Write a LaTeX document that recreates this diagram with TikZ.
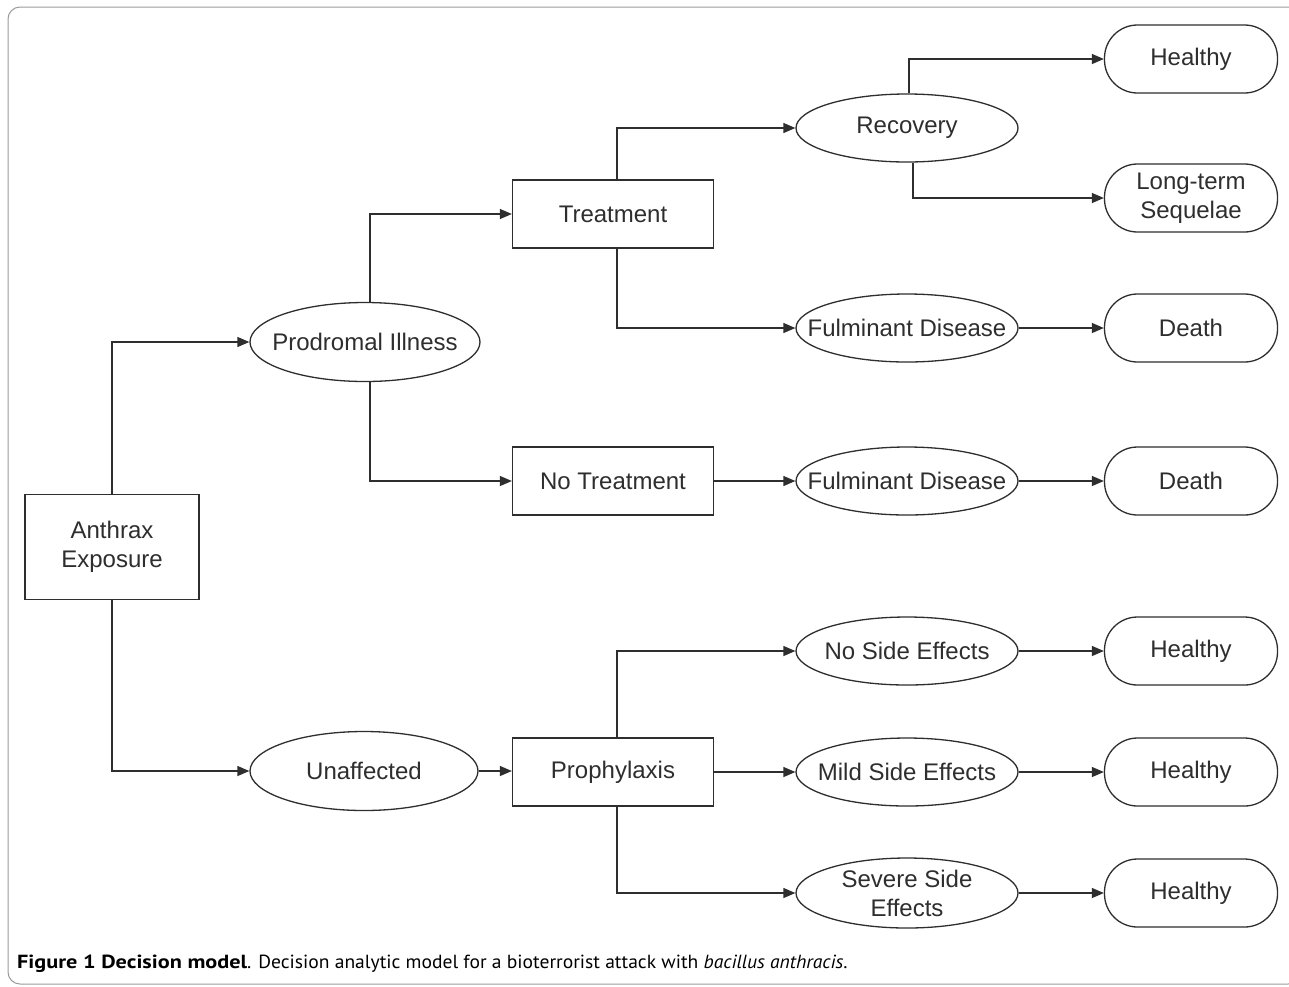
\documentclass[tikz,border=0pt]{standalone}
\usepackage{fontspec}
\setmainfont{Liberation Sans}
\newfontfamily\capfont{PT Sans}
\usetikzlibrary{shapes.geometric,arrows.meta}
\definecolor{ink}{HTML}{2E2E2E}
\definecolor{framec}{HTML}{9A9A9A}
\tikzset{
  every node/.style={font=\fontsize{24}{29}\selectfont, text=ink, align=center, inner sep=0pt},
  boxnode/.style={draw=ink, line width=1.3pt, fill=white, rectangle},
  ovalnode/.style={draw=ink, line width=1.3pt, fill=white, ellipse},
  endnode/.style={draw=ink, line width=1.3pt, fill=white, rectangle, rounded corners=33pt, minimum width=173pt, minimum height=68pt},
  link/.style={draw=ink, line width=1.3pt, -{Triangle[length=12pt,width=10pt]}},
}
\begin{document}
\begin{tikzpicture}[x=1pt,y=-1pt]
\useasboundingbox (0,0) rectangle (1289,986);
\begin{scope}
\clip (0,0) rectangle (1289,986);
\draw[framec, line width=1pt, rounded corners=12pt] (8,7) rectangle (1300,984);
\end{scope}
% rectangles
\node[boxnode, minimum width=174pt, minimum height=105pt] (ae) at (112,547) {Anthrax\\Exposure};
\node[boxnode, minimum width=201pt, minimum height=68pt] (tr) at (613,214) {Treatment};
\node[boxnode, minimum width=201pt, minimum height=68pt] (nt) at (613,481) {No Treatment};
\node[boxnode, minimum width=201pt, minimum height=68pt] (pr) at (613,772) {Prophylaxis};
% ellipses (shape, then its text)
\node[ovalnode, minimum width=230pt, minimum height=79pt] (pi) at (365,342) {};
\node (pit) at (pi.center) {Prodromal Illness};
\node[ovalnode, minimum width=228pt, minimum height=79pt] (un) at (364,771) {};
\node (unt) at (un.center) {Unaffected};
\node[ovalnode, minimum width=222pt, minimum height=68pt] (rc) at (907,128) {};
\node (rct) at (rc.center) {Recovery};
\node[ovalnode, minimum width=222pt, minimum height=68pt] (fd1) at (907,328) {};
\node (fd1t) at (fd1.center) {Fulminant Disease};
\node[ovalnode, minimum width=222pt, minimum height=68pt] (fd2) at (907,481) {};
\node (fd2t) at (fd2.center) {Fulminant Disease};
\node[ovalnode, minimum width=222pt, minimum height=68pt] (ns) at (907,651) {};
\node (nst) at (ns.center) {No Side Effects};
\node[ovalnode, minimum width=222pt, minimum height=68pt] (ms) at (907,772) {};
\node (mst) at (ms.center) {Mild Side Effects};
\node[ovalnode, minimum width=222pt, minimum height=70pt] (ss) at (907,893) {};
\node (sst) at (ss.center) {Severe Side\\Effects};
% outcomes
\node[endnode] (h1) at (1191,59) {Healthy};
\node[endnode] (lt) at (1191,198) {Long-term\\Sequelae};
\node[endnode] (d1) at (1191,328) {Death};
\node[endnode] (d2) at (1191,481) {Death};
\node[endnode] (h2) at (1191,651) {Healthy};
\node[endnode] (h3) at (1191,772) {Healthy};
\node[endnode] (h4) at (1191,893) {Healthy};
% connectors
\draw[link] (ae.north) |- (pi.west);
\draw[link] (ae.south) |- (un.west);
\draw[link] (pi.north -| 370,0) |- (tr.west);
\draw[link] (pi.south -| 370,0) |- (nt.west);
\draw[link] (un.east) -- (pr.west |- un.east);
\draw[link] (tr.north -| 617,0) |- (rc.west);
\draw[link] (tr.south -| 617,0) |- (fd1.west);
\draw[link] (nt.east) -- (fd2.west);
\draw[link] (fd1.east) -- (d1.west);
\draw[link] (fd2.east) -- (d2.west);
\draw[link] (rc.north -| 909,0) |- (h1.west);
\draw[link] (rc.south -| 913,0) |- (lt.west);
\draw[link] (pr.north -| 617,0) |- (ns.west);
\draw[link] (pr.east) -- (ms.west);
\draw[link] (pr.south -| 617,0) |- (ss.west);
\draw[link] (ns.east) -- (h2.west);
\draw[link] (ms.east) -- (h3.west);
\draw[link] (ss.east) -- (h4.west);
% caption
\node[anchor=base west, text=black, font=\capfont\fontsize{19}{22}\selectfont] (cap) at (17,968)
  {\scalebox{1.17}[1]{\textbf{Figure 1 Decision model}}\scalebox{1.03}[1]{. Decision analytic model for a bioterrorist attack with \textit{bacillus anthracis}.}};
\end{tikzpicture}
\end{document}
